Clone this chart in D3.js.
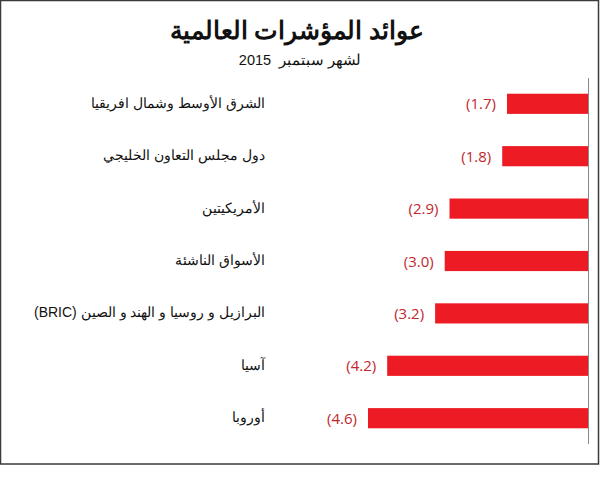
<!DOCTYPE html>
<html><head><meta charset="utf-8">
<script src="https://cdn.jsdelivr.net/npm/d3@7"></script>
<style>
html,body{margin:0;padding:0;background:#fff;}
svg{display:block;}
</style></head>
<body>
<script>
const categories = ["الشرق الأوسط وشمال افريقيا","دول مجلس التعاون الخليجي","الأمريكيتين","الأسواق الناشئة","البرازيل و روسيا و الهند و الصين (BRIC)","آسيا","أوروبا"];
const values = [-1.7,-1.8,-2.9,-3.0,-3.2,-4.2,-4.6];
const valueLabels = ["(1.7)","(1.8)","(2.9)","(3.0)","(3.2)","(4.2)","(4.6)"];
const title = "عوائد المؤشرات العالمية";
const subtitle = "لشهر سبتمبر  2015";

const W = 600, H = 491;
const svg = d3.select("body").append("svg").attr("width", W).attr("height", H);

// border
svg.append("rect").attr("x",0.5).attr("y",0.5).attr("width",598).attr("height",463.5)
  .attr("fill","none").attr("stroke","#3a3a3a").attr("stroke-width",1.5);

svg.append("text").attr("x",297).attr("y",39).attr("text-anchor","middle")
  .attr("font-family","Liberation Sans, sans-serif").attr("font-weight","bold").attr("font-size",25)
  .attr("fill","#111").attr("direction","rtl").text(title);
svg.append("text").attr("x",300).attr("y",65).attr("text-anchor","middle")
  .attr("font-family","Liberation Sans, sans-serif").attr("font-size",14.5)
  .attr("fill","#111").attr("direction","rtl").style("white-space","pre").attr("xml:space","preserve").text(subtitle);

const x = d3.scaleLinear().domain([-4.6, 0]).range([368, 588.5]);
const y = d3.scaleBand().domain(categories).range([78, 444]).paddingInner(0.615).paddingOuter(0.3);

svg.append("g").selectAll("rect").data(values).join("rect")
  .attr("x", d => x(d)).attr("y", (d,i) => y(categories[i]))
  .attr("width", d => x(0) - x(d)).attr("height", y.bandwidth())
  .attr("fill", "#ed1c24");

// axis line
svg.append("line").attr("x1", x(0)).attr("x2", x(0)).attr("y1", 78).attr("y2", 444)
  .attr("stroke", "#8a8a8a").attr("stroke-width", 1);

svg.append("g").selectAll("text").data(values).join("text")
  .attr("x", d => x(d) - 11).attr("y", (d,i) => y(categories[i]) + y.bandwidth()/2 + 5.5)
  .attr("text-anchor","end").attr("font-family","Open Sans, sans-serif").attr("font-size",15)
  .attr("fill","#c1272d").text((d,i) => valueLabels[i]);

svg.append("g").selectAll("text").data(categories).join("text")
  .attr("x", 265).attr("y", d => y(d) + y.bandwidth()/2 + 4)
  .attr("text-anchor","start").attr("direction","rtl")
  .attr("font-family","Liberation Sans, sans-serif").attr("font-size",14)
  .attr("fill","#111").text(d => d);
</script>
</body></html>
